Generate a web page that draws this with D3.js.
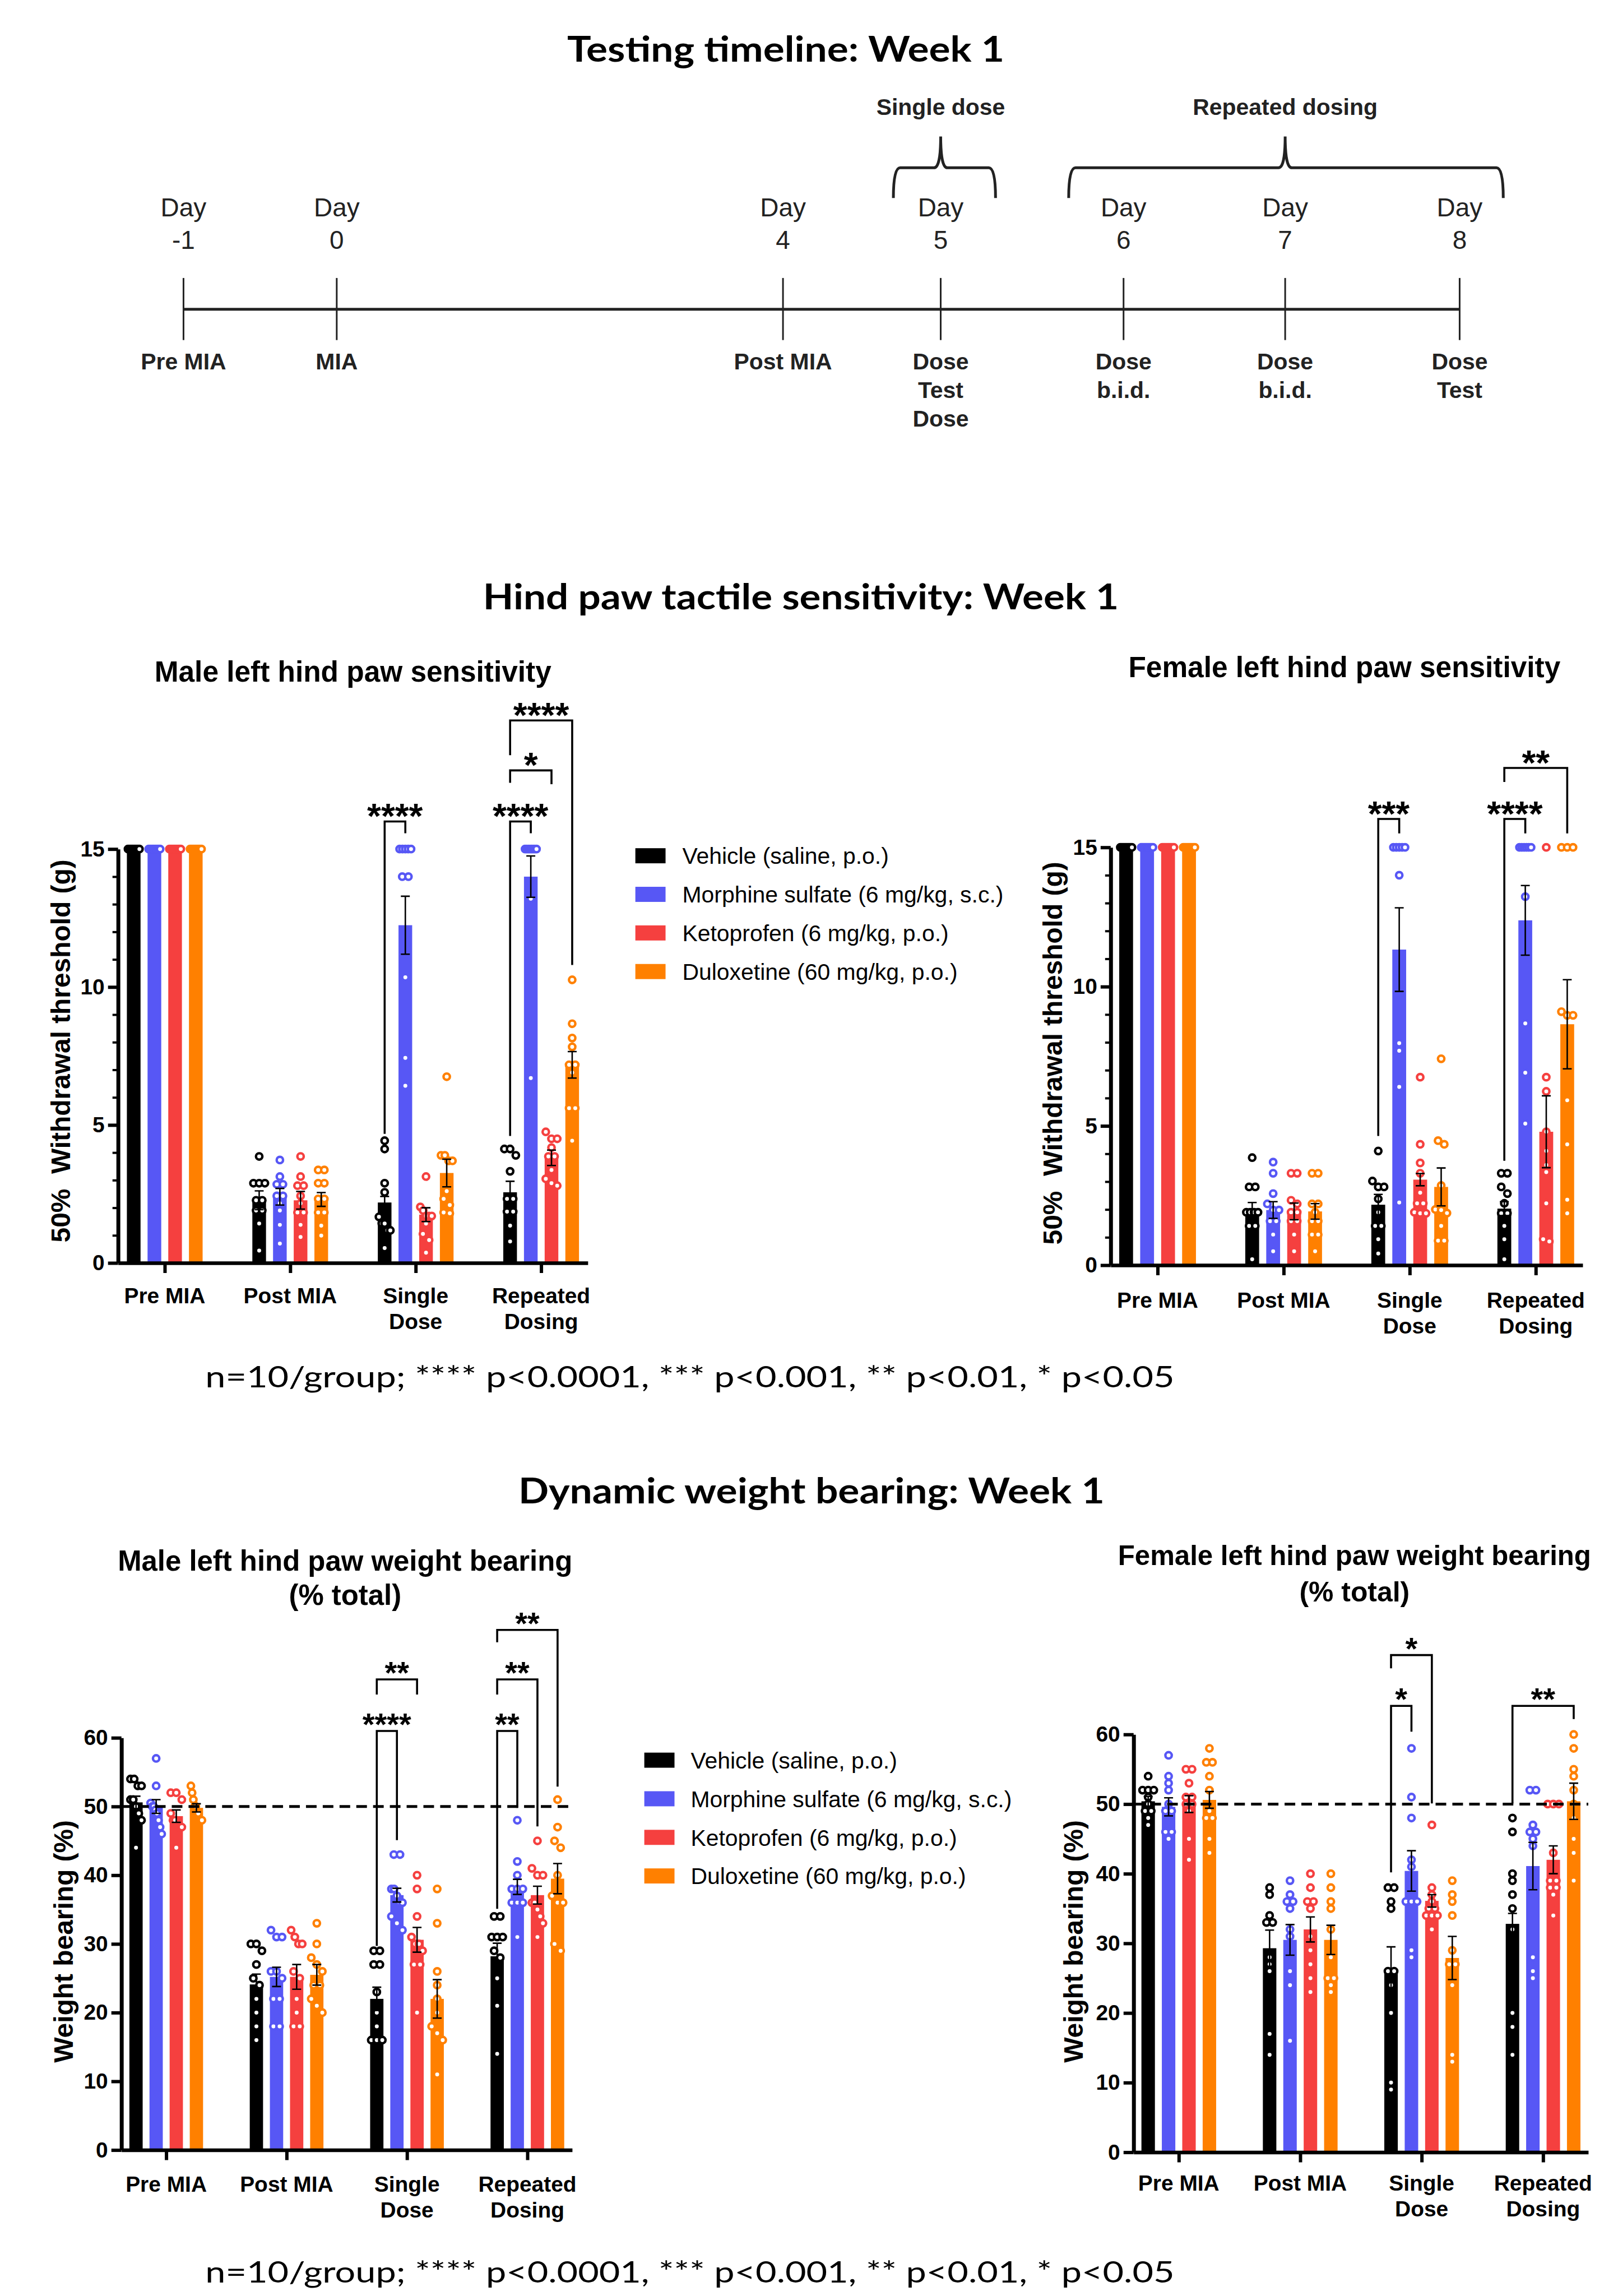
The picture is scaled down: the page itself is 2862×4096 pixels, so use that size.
<!DOCTYPE html>
<html lang="en">
<head>
<meta charset="UTF-8" />
<title>Week 1 MIA testing</title>
<script src="https://d3js.org/d3.v7.min.js"></script>
<style>
  body { margin: 0; background: #fff; }
  svg { display: block; }
</style>
</head>
<body>
<script>
// ---------- data ----------
const series = ["Vehicle (saline, p.o.)", "Morphine sulfate (6 mg/kg, s.c.)", "Ketoprofen (6 mg/kg, p.o.)", "Duloxetine (60 mg/kg, p.o.)"];
const colors = ["#000000", "#5757F5", "#F5403F", "#FF8000"];
const groups = ["Pre MIA", "Post MIA", "Single Dose", "Repeated Dosing"];

// timeline
const tlDays = [-1, 0, 4, 5, 6, 7, 8];
const tlEvents = [["Pre MIA"], ["MIA"], ["Post MIA"], ["Dose", "Test", "Dose"], ["Dose", "b.i.d."], ["Dose", "b.i.d."], ["Dose", "Test"]];
const tlBraces = [
  { label: "Single dose", from: 4.7, mid: 5, to: 5.3 },
  { label: "Repeated dosing", from: 5.7, mid: 7, to: 8.25 }
];

// tactile sensitivity, g  [series][group]
const maleTactileMean = [[15, 2.27, 2.19, 2.56], [15, 2.4, 12.24, 14.0], [15, 2.27, 1.75, 3.81], [15, 2.3, 3.26, 7.18]];
const maleTactileSem = [[0, 0.34, 0.22, 0.4], [0, 0.3, 1.05, 0.75], [0, 0.32, 0.25, 0.28], [0, 0.25, 0.5, 0.48]];
const maleTactilePts = [
  [[15,15,15,15,15,15,15,15,15,15], [3.86,2.89,2.89,2.89,2.27,2.27,1.9,1.9,1.43,0.45], [4.43,4.13,2.89,2.56,1.67,1.43,1.43,1.18,1.18,0.54], [4.13,4.13,3.9,3.32,2.32,2.32,1.86,1.86,1.35,0.78]],
  [[15,15,15,15,15,15,15,15,15,15], [3.73,3.13,2.85,2.85,2.43,2.43,2.16,1.9,1.38,0.7], [15,15,15,15,15,14,14,10.35,7.43,6.42], [15,15,15,15,15,15,15,15,13.2,6.7]],
  [[15,15,15,15,15,15,15,15,15,15], [3.86,3.13,2.8,2.8,2.43,2.16,1.83,1.83,1.38,0.94], [3.13,2.03,1.9,1.7,1.7,1.7,1.43,1.05,0.83,0.37], [4.75,4.5,4.5,4.18,3.86,3.86,3.37,3.05,2.89,2.8]],
  [[15,15,15,15,15,15,15,15,15,15], [3.37,3.37,2.89,2.89,2.32,2.32,1.83,1.83,1.35,0.99], [6.75,3.9,3.9,3.7,3.7,2.6,2.32,2.1,1.83,1.8], [10.26,8.67,8.15,7.83,7.18,7.18,6.9,5.61,5.61,4.43]]
];
const maleTactileSig = [
  { g: 2, a: 0, b: 1, top: 16.0, endA: 4.68, endB: 15.57, label: "****" },
  { g: 3, a: 0, b: 1, top: 16.0, endA: 4.6, endB: 15.57, label: "****" },
  { g: 3, a: 0, b: 2, top: 17.85, endA: 17.4, endB: 17.35, label: "*" },
  { g: 3, a: 0, b: 3, top: 19.66, endA: 18.4, endB: 10.8, label: "****" }
];

const femaleTactileMean = [[15, 1.98, 2.17, 2.03], [15, 1.98, 11.33, 12.38], [15, 1.93, 3.07, 4.79], [15, 1.93, 2.81, 8.65]];
const femaleTactileSem = [[0, 0.27, 0.37, 0.25], [0, 0.3, 1.5, 1.25], [0, 0.3, 0.22, 1.29], [0, 0.28, 0.68, 1.6]];
const femaleTactilePts = [
  [[15,15,15,15,15,15,15,15,15,15], [3.86,2.81,2.81,1.9,1.9,1.9,1.9,1.41,1.41,0.21], [4.1,3.02,2.81,2.81,2.38,1.9,1.41,1.41,0.93,0.42], [3.3,3.3,2.81,2.57,2.22,1.86,1.86,1.41,0.93,0.21]],
  [[15,15,15,15,15,15,15,15,15,15], [3.7,3.3,2.57,2.2,1.98,1.98,1.58,1.58,1.1,0.5], [15,15,15,15,15,14,7.97,7.7,6.4,2.25], [15,15,15,15,15,15,13.23,8.68,6.91,5.08]],
  [[15,15,15,15,15,15,15,15,15,15], [3.3,3.3,2.33,2.2,1.9,1.9,1.58,1.58,1.1,0.5], [6.75,4.34,3.67,3.3,2.6,2.22,2.22,1.9,1.86,1.86], [15,6.75,6.24,4.79,4.1,3.6,3.34,2.22,0.93,0.85]],
  [[15,15,15,15,15,15,15,15,15,15], [3.3,3.3,2.2,2.2,1.9,1.58,1.58,1.1,1.1,0.5], [7.41,4.47,4.34,2.86,2.0,1.98,1.87,1.41,0.88,0.88], [15,15,15,9.1,8.97,8.97,5.92,4.34,2.35,1.86]]
];
const femaleTactileSig = [
  { g: 2, a: 0, b: 1, top: 16.02, endA: 4.64, endB: 15.5, label: "***" },
  { g: 3, a: 0, b: 1, top: 16.02, endA: 3.75, endB: 15.5, label: "****" },
  { g: 3, a: 0, b: 3, top: 17.85, endA: 17.35, endB: 15.5, label: "**" }
];

// weight bearing, %  [series][group]
const maleWbMean = [[50.6, 24.1, 22.0, 28.2], [50.0, 25.2, 37.1, 38.3], [48.6, 25.2, 30.6, 37.1], [49.8, 25.5, 22.0, 39.5]];
const maleWbSem = [[0.9, 1.5, 1.7, 1.9], [1.0, 1.4, 1.0, 1.1], [0.9, 1.8, 1.8, 1.3], [0.6, 1.5, 2.8, 2.2]];
const maleWbPts = [
  [[54,54,53,53,51,51,50,49,48,44], [30,30,29,27,25,24,22,20,18,16], [29,29,27,27,23,20,18,16,16,16], [34,34,31,31,31,29,28,25,21,14]],
  [[57,53,50.5,50,50,49.5,49,48,47,46], [32,31,31,26,26,25,22,22,18,18], [43,43,38,38,37,36,36,34,33,32], [48,42,40,38,38,38,36,36,36,31]],
  [[52,52,51,49,48,48,47,47,47,44], [32,31,30,30,26,25,22,20,18,18], [40,38,34,31,30,30,29,27,27,20], [45,41,40,40,36,36,35,34,33,31]],
  [[53,52,51,50,50,49,49,48,48,48], [33,30,28,27,26,24,24,22,21,20], [38,33,26,24,22,20,18,17,16,11], [51,47,45,44,40,37,36,36,30,29]]
];
const maleWbSig = [
  { g: 2, a: 0, b: 1, top: 61.0, endA: 29.7, endB: 45.1, label: "****" },
  { g: 2, a: 0, b: 2, top: 68.5, endA: 66.3, endB: 66.3, label: "**" },
  { g: 3, a: 0, b: 1, top: 61.0, endA: 35.1, endB: 49.8, label: "**" },
  { g: 3, a: 0, b: 2, top: 68.5, endA: 66.3, endB: 47.1, label: "**" },
  { g: 3, a: 0, b: 3, top: 75.7, endA: 73.9, endB: 52.9, label: "**" }
];

const femaleWbMean = [[50.4, 29.3, 25.9, 32.8], [49.6, 30.5, 40.4, 41.1], [50.0, 32.0, 36.1, 42.0], [50.6, 30.5, 27.9, 50.4]];
const femaleWbSem = [[0.7, 2.6, 3.6, 1.5], [1.3, 2.2, 2.9, 3.4], [1.2, 1.8, 0.9, 2.0], [1.2, 2.1, 3.1, 2.6]];
const femaleWbPts = [
  [[54,52,52,52,51,50,49,49,48,47], [38,37,34,33,33,28,27,26,17,14], [38,38,36,35,26,26,24,20,10,9], [48,46,40,39,37,35,32,20,18,14]],
  [[57,54,53,52,50,49,49,46,46,45], [39,37,36,36,35,32,31,26,24,16], [58,51,48,42,41,36,36,36,29,28], [52,52,47,46,46,45,44,28,26,25]],
  [[55,55,53,51,51,50,50,49,45,42], [40,38,36,36,35,31,29,27,25,23], [47,38,37,36,35,35,34,34,34,32], [50,50,50,43,39,39,38,38,37,34]],
  [[58,56,56,54,52,49,48,48,45,43], [40,38,36,35,32,28,25,25,24,23], [39,37,36,34,29,27,27,24,14,13], [60,58,55,54,52,50,48,45,43,39]]
];
const femaleWbSig = [
  { g: 2, a: 0, b: 1, top: 64.1, endA: 40.2, endB: 60.4, label: "*" },
  { g: 2, a: 0, b: 2, top: 71.4, endA: 69.5, endB: 50.1, label: "*" },
  { g: 3, a: 0, b: 3, top: 64.1, endA: 50.1, endB: 62.2, label: "**" }
];

const footnote = "n=10/group; **** p<0.0001, *** p<0.001, ** p<0.01, * p<0.05";

// ---------- setup ----------
const W = 2868, H = 4105;
const ARIAL = '"Liberation Sans", Arial, Helvetica, sans-serif';
const CALI = 'Lato, "Open Sans", sans-serif';

const svg = d3.select("body").append("svg")
  .attr("width", 2862).attr("height", 4096)
  .attr("viewBox", `0 0 ${W} ${H}`);

function bigTitle(txt, cx, base, len) {
  svg.append("text").attr("x", cx).attr("y", base)
    .attr("text-anchor", "middle")
    .attr("font-family", CALI).attr("font-weight", 700).attr("font-size", 64)
    .attr("textLength", len).attr("lengthAdjust", "spacingAndGlyphs")
    .text(txt);
}

function note(y) {
  svg.append("text").attr("x", 367).attr("y", y)
    .attr("font-family", CALI).attr("font-size", 52)
    .attr("textLength", 1733).attr("lengthAdjust", "spacingAndGlyphs")
    .text(footnote);
}

// ---------- timeline ----------
bigTitle("Testing timeline: Week 1", 1405, 110, 782);

const tl = svg.append("g").attr("fill", "#222").attr("font-family", ARIAL);
const tx = d3.scaleLinear().domain(tlDays).range([328, 602, 1400, 1682, 2009, 2298, 2610]);
const tlY = 553;

tl.append("line")
  .attr("x1", tx(tlDays[0])).attr("x2", tx(tlDays[tlDays.length - 1]))
  .attr("y1", tlY).attr("y2", tlY)
  .attr("stroke", "#222").attr("stroke-width", 5);

tl.selectAll(".tick").data(tlDays).join("line")
  .attr("x1", d => tx(d)).attr("x2", d => tx(d))
  .attr("y1", tlY - 56).attr("y2", tlY + 55)
  .attr("stroke", "#222").attr("stroke-width", 3);

tl.selectAll(".dayw").data(tlDays).join("text")
  .attr("x", d => tx(d)).attr("y", 370).attr("dy", "0.36em")
  .attr("text-anchor", "middle").attr("font-size", 46)
  .text("Day");
tl.selectAll(".dayn").data(tlDays).join("text")
  .attr("x", d => tx(d)).attr("y", 428).attr("dy", "0.36em")
  .attr("text-anchor", "middle").attr("font-size", 46)
  .text(d => d);

tlDays.forEach((d, i) => {
  tlEvents[i].forEach((line, j) => {
    tl.append("text").attr("x", tx(d)).attr("y", 646 + j * 51).attr("dy", "0.36em")
      .attr("text-anchor", "middle").attr("font-size", 41).attr("font-weight", "bold")
      .text(line);
  });
});

tlBraces.forEach(b => {
  const x1 = tx(b.from), x2 = tx(b.to), xm = tx(b.mid);
  const yEnd = 354, yBar = 300, yPeak = 244, r = 12;
  const p = d3.path();
  p.moveTo(x1, yEnd);
  p.quadraticCurveTo(x1, yBar, x1 + r, yBar);
  p.lineTo(xm - r, yBar);
  p.quadraticCurveTo(xm, yBar, xm, yPeak);
  p.quadraticCurveTo(xm, yBar, xm + r, yBar);
  p.lineTo(x2 - r, yBar);
  p.quadraticCurveTo(x2, yBar, x2, yEnd);
  tl.append("path").attr("d", p.toString())
    .attr("fill", "none").attr("stroke", "#222").attr("stroke-width", 5);
  tl.append("text").attr("x", xm).attr("y", 191).attr("dy", "0.36em")
    .attr("text-anchor", "middle").attr("font-size", 41).attr("font-weight", "bold")
    .text(b.label);
});

// ---------- bar charts ----------
function spread(vals, y, bw, r) {
  // side-by-side offsets for points that would overlap
  const items = vals.map(v => ({ v, py: y(v) })).sort((a, b) => a.py - b.py);
  const out = [];
  let cluster = [];
  const flush = () => {
    const n = cluster.length;
    const sp = n > 1 ? Math.min(11, (bw - 4) / (n - 1)) : 0;
    cluster.forEach((it, i) => out.push({ v: it.v, py: it.py, dx: (i - (n - 1) / 2) * sp }));
    cluster = [];
  };
  items.forEach(it => {
    if (cluster.length && it.py - cluster[cluster.length - 1].py > 2 * r - 3) flush();
    cluster.push(it);
  });
  flush();
  return out;
}

function drawChart(c) {
  const g = svg.append("g").attr("font-family", ARIAL);
  const xg = d3.scalePoint().domain(groups).range([c.x0, c.x1]).padding(0.372);
  const pin = 0.34;
  const half = c.barStep * (series.length - pin) / 2;
  const xs = d3.scaleBand().domain(d3.range(series.length)).range([-half, half]).paddingInner(pin);
  const y = d3.scaleLinear().domain([0, c.yMax]).range([c.y0, c.yTop]);
  const bw = xs.bandwidth();
  const cx = (s, gi) => xg(groups[gi]) + xs(s) + bw / 2;

  // title
  c.title.forEach((t, i) => {
    const tt = g.append("text").attr("x", c.titleX).attr("y", c.titleY[i]).attr("dy", "0.36em")
      .attr("text-anchor", "middle").attr("font-weight", "bold").attr("font-size", c.titleSize)
      .text(t);
    if (c.titleLen && c.titleLen[i]) tt.attr("textLength", c.titleLen[i]).attr("lengthAdjust", "spacingAndGlyphs");
  });

  // bars
  series.forEach((s, si) => {
    g.append("g").selectAll("rect").data(c.means[si]).join("rect")
      .attr("x", (d, gi) => xg(groups[gi]) + xs(si))
      .attr("width", bw)
      .attr("y", d => y(d))
      .attr("height", d => c.y0 - y(d))
      .attr("fill", colors[si]);
  });

  // points
  const r = 5.7;
  series.forEach((s, si) => {
    groups.forEach((gr, gi) => {
      const pts = spread(c.pts[si][gi], y, bw, r + 2);
      g.append("g").selectAll("circle").data(pts).join("circle")
        .attr("cx", d => cx(si, gi) + d.dx)
        .attr("cy", d => d.py)
        .attr("r", r)
        .attr("fill", "#fff")
        .attr("stroke", colors[si])
        .attr("stroke-width", 4.4);
    });
  });

  // error bars (SEM)
  const eb = g.append("g").attr("stroke", "#000").attr("stroke-width", 2.6).attr("fill", "none");
  series.forEach((s, si) => {
    c.means[si].forEach((m, gi) => {
      const e = c.sems[si][gi];
      if (!e) return;
      const x = cx(si, gi), ya = y(m + e), yb = y(m - e);
      eb.append("path").attr("d", `M${x},${ya}V${yb}M${x - 8},${ya}H${x + 8}M${x - 8},${yb}H${x + 8}`);
    });
  });

  // dashed reference
  if (c.dashed != null) {
    g.append("line").attr("x1", c.x0).attr("x2", c.x1)
      .attr("y1", y(c.dashed)).attr("y2", y(c.dashed))
      .attr("stroke", "#000").attr("stroke-width", 5).attr("stroke-dasharray", "19 11");
  }

  // axes
  const ya = g.append("g").attr("transform", `translate(${c.x0},0)`)
    .call(d3.axisLeft(y).tickValues(c.yTicks).tickSize(18).tickSizeOuter(0).tickPadding(6));
  if (c.minor) {
    g.append("g").attr("transform", `translate(${c.x0},0)`)
      .call(d3.axisLeft(y).tickValues(d3.range(0, c.yMax + 1).filter(v => v % 5)).tickSize(10).tickSizeOuter(0).tickFormat(""))
      .call(a => a.select(".domain").remove())
      .call(a => a.selectAll("line").attr("stroke-width", 4));
  }
  ya.attr("font-family", ARIAL).attr("font-size", 39).attr("font-weight", "bold");
  ya.select(".domain").attr("stroke-width", 7);
  ya.selectAll(".tick line").attr("stroke-width", 6);
  ya.selectAll(".tick text").attr("fill", "#000");

  const xa = g.append("g").attr("transform", `translate(0,${c.y0})`)
    .call(d3.axisBottom(xg).tickSize(18).tickSizeOuter(0).tickFormat(""));
  xa.select(".domain").attr("stroke-width", 6.5);
  xa.selectAll(".tick line").attr("stroke-width", 6);

  groups.forEach(gr => {
    const lines = (gr === "Single Dose" || gr === "Repeated Dosing") ? gr.split(" ") : [gr];
    lines.forEach((w, i) => {
      g.append("text").attr("x", xg(gr)).attr("y", c.y0 + c.labDy + i * 46).attr("dy", "0.36em")
        .attr("text-anchor", "middle").attr("font-weight", "bold").attr("font-size", 39).text(w);
    });
  });

  // y label
  g.append("text")
    .attr("transform", `translate(${c.ylabX},${c.ylabY}) rotate(-90)`)
    .attr("dy", "0.36em").attr("text-anchor", "middle")
    .attr("font-weight", "bold").attr("font-size", 48)
    .style("white-space", "pre")
    .text(c.ylabel);

  // significance brackets
  const br = g.append("g");
  c.sig.forEach(b => {
    const xa1 = cx(b.a, b.g), xb1 = cx(b.b, b.g), yt = y(b.top);
    br.append("path")
      .attr("d", `M${xa1},${y(b.endA)}V${yt}H${xb1}V${y(b.endB)}`)
      .attr("fill", "none").attr("stroke", "#000").attr("stroke-width", 3.6);
    br.append("text").attr("x", (xa1 + xb1) / 2).attr("y", yt + 0.575 * c.starSize - 25)
      .attr("text-anchor", "middle").attr("font-weight", "bold").attr("font-size", c.starSize)
      .text(b.label);
  });
}

function legend(x, yFirst, tx0) {
  const lg = svg.append("g").attr("font-family", ARIAL);
  series.forEach((s, i) => {
    const yc = yFirst + i * 69;
    lg.append("rect").attr("x", x).attr("y", yc - 13.5).attr("width", 54).attr("height", 27).attr("fill", colors[i]);
    lg.append("text").attr("x", tx0).attr("y", yc).attr("dy", "0.36em").attr("font-size", 41).text(s);
  });
}

// ---------- tactile ----------
bigTitle("Hind paw tactile sensitivity: Week 1", 1432, 1089, 1137);

drawChart({
  means: maleTactileMean, sems: maleTactileSem, pts: maleTactilePts, sig: maleTactileSig,
  x0: 211, x1: 1051, y0: 2258, yTop: 1518, yMax: 15, yTicks: [0, 5, 10, 15], minor: true,
  barStep: 37, labDy: 58, starSize: 64,
  title: ["Male left hind paw sensitivity"], titleX: 631, titleY: [1200], titleSize: 51.5,
  ylabel: "50%  Withdrawal threshold (g)", ylabX: 108, ylabY: 1879
});
drawChart({
  means: femaleTactileMean, sems: femaleTactileSem, pts: femaleTactilePts, sig: femaleTactileSig,
  x0: 1986, x1: 2830, y0: 2262, yTop: 1515, yMax: 15, yTicks: [0, 5, 10, 15], minor: true,
  barStep: 37.5, labDy: 62, starSize: 64,
  title: ["Female left hind paw sensitivity"], titleX: 2404, titleY: [1192], titleSize: 51.5,
  ylabel: "50%  Withdrawal threshold (g)", ylabX: 1882, ylabY: 1883
});
legend(1136, 1530, 1220);
note(2480);

// ---------- weight bearing ----------
bigTitle("Dynamic weight bearing: Week 1", 1451, 2688, 1048);

drawChart({
  means: maleWbMean, sems: maleWbSem, pts: maleWbPts, sig: maleWbSig,
  x0: 217, x1: 1023, y0: 3844, yTop: 3107, yMax: 60, yTicks: [0, 10, 20, 30, 40, 50, 60], minor: false,
  dashed: 50, barStep: 36, labDy: 61, starSize: 56,
  title: ["Male left hind paw weight bearing", "(% total)"], titleX: 617, titleY: [2790, 2851], titleSize: 51,
  ylabel: "Weight bearing (%)", ylabX: 113, ylabY: 3471
});
drawChart({
  means: femaleWbMean, sems: femaleWbSem, pts: femaleWbPts, sig: femaleWbSig,
  x0: 2027, x1: 2840, y0: 3848, yTop: 3101, yMax: 60, yTicks: [0, 10, 20, 30, 40, 50, 60], minor: false,
  dashed: 50, barStep: 36.5, labDy: 55, starSize: 56,
  title: ["Female left hind paw weight bearing", "(% total)"], titleX: 2422, titleY: [2780, 2845], titleSize: 50,
  titleLen: [846, null],
  ylabel: "Weight bearing (%)", ylabX: 1919, ylabY: 3471
});
legend(1152, 3147, 1235);
note(4081);
</script>
</body>
</html>
